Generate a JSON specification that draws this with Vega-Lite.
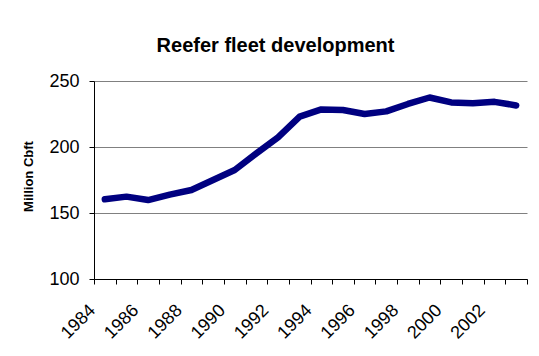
{
  "$schema": "https://vega.github.io/schema/vega-lite/v6.json",
  "width": 433,
  "height": 198,
  "autosize": {"type": "none"},
  "padding": {"left": 94, "top": 81, "right": 12, "bottom": 77},
  "background": "white",
  "title": {
    "text": "Reefer fleet development",
    "font": "Liberation Sans",
    "fontSize": 20,
    "fontWeight": "bold",
    "color": "black",
    "anchor": "middle",
    "baseline": "alphabetic",
    "offset": 0,
    "dx": -35
  },
  "data": {
    "values": [
      {"year": "1984", "cbft": 160.4},
      {"year": "1985", "cbft": 162.4},
      {"year": "1986", "cbft": 159.8},
      {"year": "1987", "cbft": 163.9},
      {"year": "1988", "cbft": 167.4},
      {"year": "1989", "cbft": 175.0},
      {"year": "1990", "cbft": 182.6},
      {"year": "1991", "cbft": 195.2},
      {"year": "1992", "cbft": 207.3},
      {"year": "1993", "cbft": 223.0},
      {"year": "1994", "cbft": 228.5},
      {"year": "1995", "cbft": 228.0},
      {"year": "1996", "cbft": 225.0},
      {"year": "1997", "cbft": 227.0},
      {"year": "1998", "cbft": 232.6},
      {"year": "1999", "cbft": 237.5},
      {"year": "2000", "cbft": 233.8},
      {"year": "2001", "cbft": 233.1},
      {"year": "2002", "cbft": 234.2},
      {"year": "2003", "cbft": 231.5}
    ]
  },
  "mark": {
    "type": "line",
    "color": "#000080",
    "strokeWidth": 6.5,
    "strokeJoin": "round",
    "strokeCap": "round"
  },
  "encoding": {
    "x": {
      "field": "year",
      "type": "ordinal",
      "scale": {"type": "band", "paddingInner": 0, "paddingOuter": 0},
      "axis": {
        "title": null,
        "tickBand": "extent",
        "grid": false,
        "domainColor": "black",
        "tickColor": "black",
        "tickSize": 5,
        "labelExpr": "toNumber(datum.value) % 2 == 0 ? datum.label : ''",
        "labelAngle": -45,
        "labelAlign": "right",
        "labelBaseline": "middle",
        "labelOffset": -12.5,
        "labelPadding": 23.5,
        "labelFont": "Liberation Sans",
        "labelFontSize": 18,
        "labelColor": "black"
      }
    },
    "y": {
      "field": "cbft",
      "type": "quantitative",
      "scale": {"domain": [100, 250], "nice": false, "zero": false},
      "axis": {
        "title": "Million Cbft",
        "titleFont": "Liberation Sans",
        "titleFontSize": 13,
        "titleFontWeight": "bold",
        "titleColor": "black",
        "titlePadding": 13,
        "titleY": 95,
        "values": [100, 150, 200, 250],
        "grid": true,
        "gridColor": "#808080",
        "gridOpacity": 1,
        "domainColor": "black",
        "tickColor": "black",
        "tickSize": 5,
        "labelPadding": 10,
        "labelFont": "Liberation Sans",
        "labelFontSize": 18,
        "labelColor": "black"
      }
    }
  },
  "config": {
    "view": {"stroke": null}
  }
}
